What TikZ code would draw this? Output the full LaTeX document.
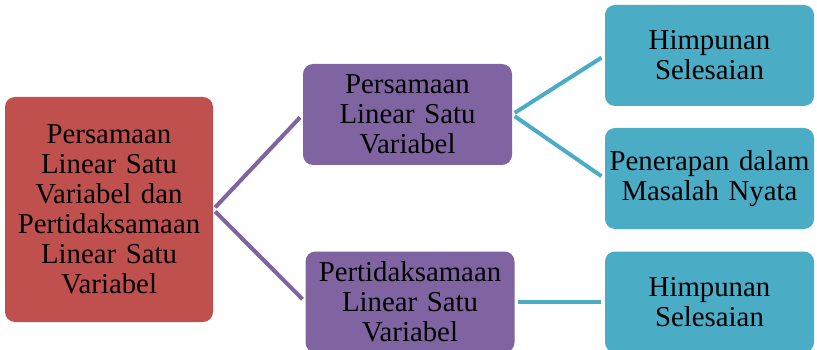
\documentclass[tikz,border=0pt]{standalone}
\usepackage{fontspec}
\setmainfont{Liberation Serif}
\definecolor{cred}{HTML}{C0504D}
\definecolor{cpurple}{HTML}{8064A2}
\definecolor{cteal}{HTML}{4BACC6}
\begin{document}
\begin{tikzpicture}[x=1pt,y=-1pt,
  box/.style={rounded corners=10pt, inner sep=0pt, align=center,
    font=\fontsize{28.8}{30}\selectfont, text=black},
  redbox/.style={box, fill=cred, minimum width=208pt, minimum height=225pt, text width=204pt},
  purbox/.style={box, fill=cpurple, minimum width=209pt, minimum height=101pt, text width=207pt},
  tealbox/.style={box, fill=cteal, minimum width=209pt, minimum height=101pt, text width=207pt},
  plink/.style={draw=cpurple, line width=4pt, shorten <=3pt, shorten >=4pt},
  tlink/.style={draw=cteal, line width=4pt, shorten <=3pt, shorten >=4pt}]
\useasboundingbox (0,0) rectangle (817,350);
\fill[white] (0,0) rectangle (817,350);
\node[redbox] (root) at (109,209.5) {Persamaan\\Linear Satu\\Variabel dan\\Pertidaksamaan\\Linear Satu\\Variabel};
\node[purbox] (p1) at (407.5,114.5) {Persamaan\\Linear Satu\\Variabel};
\node[purbox] (p2) at (410,302) {Pertidaksamaan\\Linear Satu\\Variabel};
\node[tealbox] (t1) at (709.5,55.5) {Himpunan\\Selesaian};
\node[tealbox] (t2) at (709.5,178.5) {Penerapan dalam\\Masalah Nyata};
\node[tealbox] (t3) at (709.5,302) {Himpunan\\Selesaian};
\draw[plink] (root.east) -- (p1.west);
\draw[plink] (root.east) -- (p2.west);
\draw[tlink] (p1.east) -- (t1.west);
\draw[tlink] (p1.east) -- (t2.west);
\draw[tlink] (p2.east) -- (t3.west);
\end{tikzpicture}
\end{document}
